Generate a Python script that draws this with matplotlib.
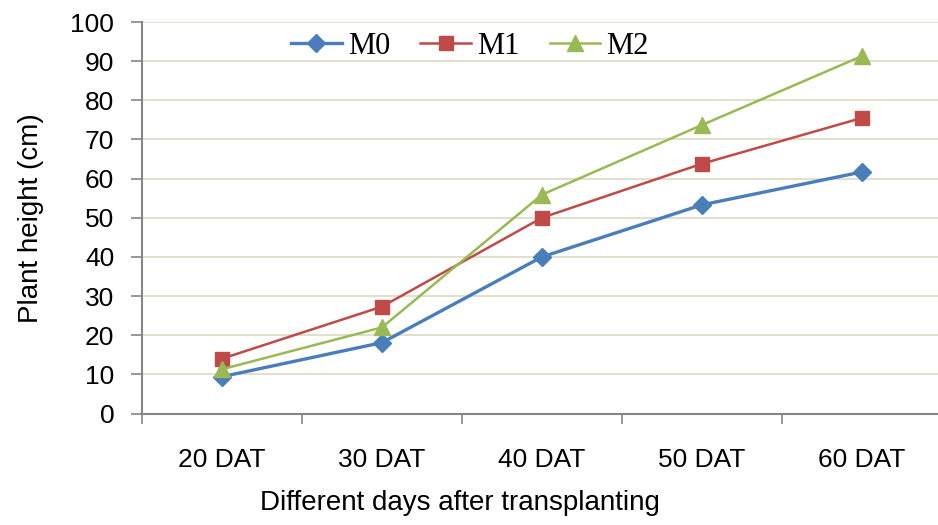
import matplotlib
matplotlib.use('Agg')
import matplotlib.pyplot as plt
from matplotlib.ticker import FixedLocator, NullFormatter

days = ['20 DAT', '30 DAT', '40 DAT', '50 DAT', '60 DAT']
m0 = [9.4, 18.1, 40.0, 53.3, 61.7]
m1 = [14.0, 27.3, 50.0, 63.8, 75.5]
m2 = [11.3, 22.0, 55.9, 73.7, 91.3]

sans = 'Liberation Sans'
serif = 'Liberation Serif'

fig = plt.figure(figsize=(9.38, 5.25), dpi=100)
ax = fig.add_axes([142 / 938, 1 - 413.5 / 525, 800 / 938, 391.5 / 525])

x = list(range(len(days)))
ax.plot(x, m0, color='#4A7EBB', lw=2.4, marker='D', ms=9, label='M0')
ax.plot(x, m1, color='#BE4B48', lw=1.8, marker='s', ms=10, label='M1')
ax.plot(x, m2, color='#98B954', lw=1.8, marker='^', ms=11, label='M2')

ax.set_xlim(-0.5, len(days) - 0.5)
ax.set_ylim(0, 100)
ax.set_yticks(range(0, 101, 10))
ax.yaxis.grid(True, color='#DDD9C3', lw=1.2)
ax.set_axisbelow(True)

ax.xaxis.set_major_locator(FixedLocator([i - 0.5 for i in range(len(days) + 1)]))
ax.xaxis.set_major_formatter(NullFormatter())
ax.xaxis.set_minor_locator(FixedLocator(x))
ax.set_xticklabels(days, minor=True)
ax.tick_params(axis='x', which='major', length=7, width=1.2, color='#868686')
ax.tick_params(axis='x', which='minor', length=0, pad=25, labelsize=19)
ax.tick_params(axis='y', length=8, width=1.2, color='#868686', labelsize=19, pad=12)
for lab in ax.get_xticklabels(minor=True) + ax.get_yticklabels():
    lab.set_fontfamily(sans)

for s in ['top', 'right']:
    ax.spines[s].set_visible(False)
for s in ['left', 'bottom']:
    ax.spines[s].set_color('#868686')
    ax.spines[s].set_linewidth(1.5)

ax.set_ylabel('Plant height (cm)', fontsize=20, family=sans, labelpad=19)
ax.set_xlabel('Different days after transplanting', fontsize=20, family=sans)
ax.xaxis.set_label_coords((460 - 142) / 800, -0.195)

ax.legend(loc='upper left', bbox_to_anchor=(0.152, 1.045), ncol=3, frameon=False,
          prop={'family': serif, 'size': 22}, handlelength=1.65, columnspacing=1.0,
          handletextpad=0.2)

fig.savefig('out.png', dpi=100)
